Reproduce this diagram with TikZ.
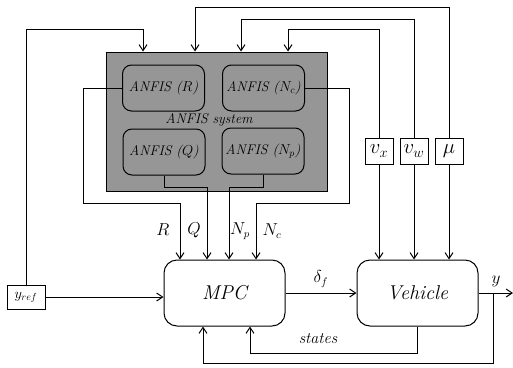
\documentclass[tikz,border=0pt]{standalone}
\usetikzlibrary{arrows.meta,positioning}

\definecolor{sysgray}{RGB}{150,150,150}
\tikzset{
  blk/.style={draw, rounded corners=13pt, minimum width=121pt, minimum height=66pt, font=\fontsize{20}{23}\selectfont\itshape},
  fis/.style={draw, fill=sysgray, rounded corners=9pt, minimum width=82pt, minimum height=46pt, font=\fontsize{14}{17}\selectfont\itshape},
  sig/.style={draw, inner sep=1pt, minimum width=28pt, minimum height=26pt, font=\fontsize{20}{22}\selectfont},
  arr/.style={-{Straight Barb[length=6pt,width=8pt]}},
  lbl/.style={font=\fontsize{16}{19}\selectfont}
}

\begin{document}
\begin{tikzpicture}[x=1pt,y=-1pt,line width=1pt]
  \useasboundingbox (0,0) rectangle (513,367);
  % ANFIS system
  \node[draw, fill=sysgray, minimum width=221pt, minimum height=139pt] (sys) at (216.5,121.5) {};
  \node[fis] (fr) at (163.5,88) {ANFIS ($R$)};
  \node[fis] (fq) at (164,152) {ANFIS ($Q$)};
  \node[fis] (fnc) at (263.5,88) {ANFIS ($N_c$)};
  \node[fis] (fnp) at (263,151) {ANFIS ($N_p$)};
  \node[font=\fontsize{14}{17}\selectfont\itshape] (syslbl) at (209,120) {ANFIS system};
  % blocks
  \node[blk] (mpc) at (224.5,293) {MPC};
  \node[blk] (veh) at (417.5,293) {Vehicle};
  \node[sig, minimum width=38pt, minimum height=24pt, font=\fontsize{14}{16}\selectfont] (yref) at (26,297) {$y_{ref}$};
  \node[sig] (vx) at (379,151) {$v_x$};
  \node[sig] (vw) at (414,151) {$v_w$};
  \node[sig] (mu) at (449,151) {$\mu$};
  % feedback to the ANFIS system
  \coordinate (t1) at (143,29);
  \coordinate (t2) at (195,7);
  \coordinate (t3) at (241,19);
  \coordinate (t4) at (288,29);
  \draw[arr] (yref.north) |- (t1) -- (t1 |- sys.north);
  \draw[arr] (mu.north) |- (t2) -- (t2 |- sys.north);
  \draw[arr] (vw.north) |- (t3) -- (t3 |- sys.north);
  \draw[arr] (vx.north) |- (t4) -- (t4 |- sys.north);
  \foreach \s in {vx,vw,mu} { \draw[arr] (\s.south) -- (\s.south |- veh.north); }
  % weights to the MPC
  \coordinate (rc) at (83,203);
  \coordinate (nc) at (349,203);
  \draw[arr] (fr.west) -| (rc) -| ([xshift=-44.5pt]mpc.north);
  \draw[arr] (fq.south) -- ++(0,12) -| ([xshift=-17.5pt]mpc.north);
  \draw[arr] (fnp.south) -- ++(0,13) -| ([xshift=4.5pt]mpc.north);
  \draw[arr] (fnc.east) -| (nc) -| ([xshift=31.5pt]mpc.north);
  \node[lbl] (lr) at (163,230) {$R$};
  \node[lbl] (lq) at (194,230) {$Q$};
  \node[lbl] (lnp) at (240,231) {$N_p$};
  \node[lbl] (lnc) at (272,231) {$N_c$};
  % main loop
  \draw[arr] (yref.east) -- (yref.east -| mpc.west);
  \draw[arr] (mpc.east) -- (veh.west) node[lbl, midway, above=2pt] (ldf) {$\delta_f$};
  \coordinate (out) at (513,293);
  \coordinate (fb) at (493,363);
  \draw[arr] (veh.east) -- (out);
  \node[lbl] (ly) at (496,281) {$y$};
  \draw[arr] (fb |- veh.east) -- (fb) -| ([xshift=-21.5pt]mpc.south);
  \draw[arr] (veh.south) -- ++(0,27) -| ([xshift=25.5pt]mpc.south);
  \node[lbl, font=\fontsize{16}{19}\selectfont\itshape] (lst) at (318,339) {states};
\end{tikzpicture}
\end{document}
